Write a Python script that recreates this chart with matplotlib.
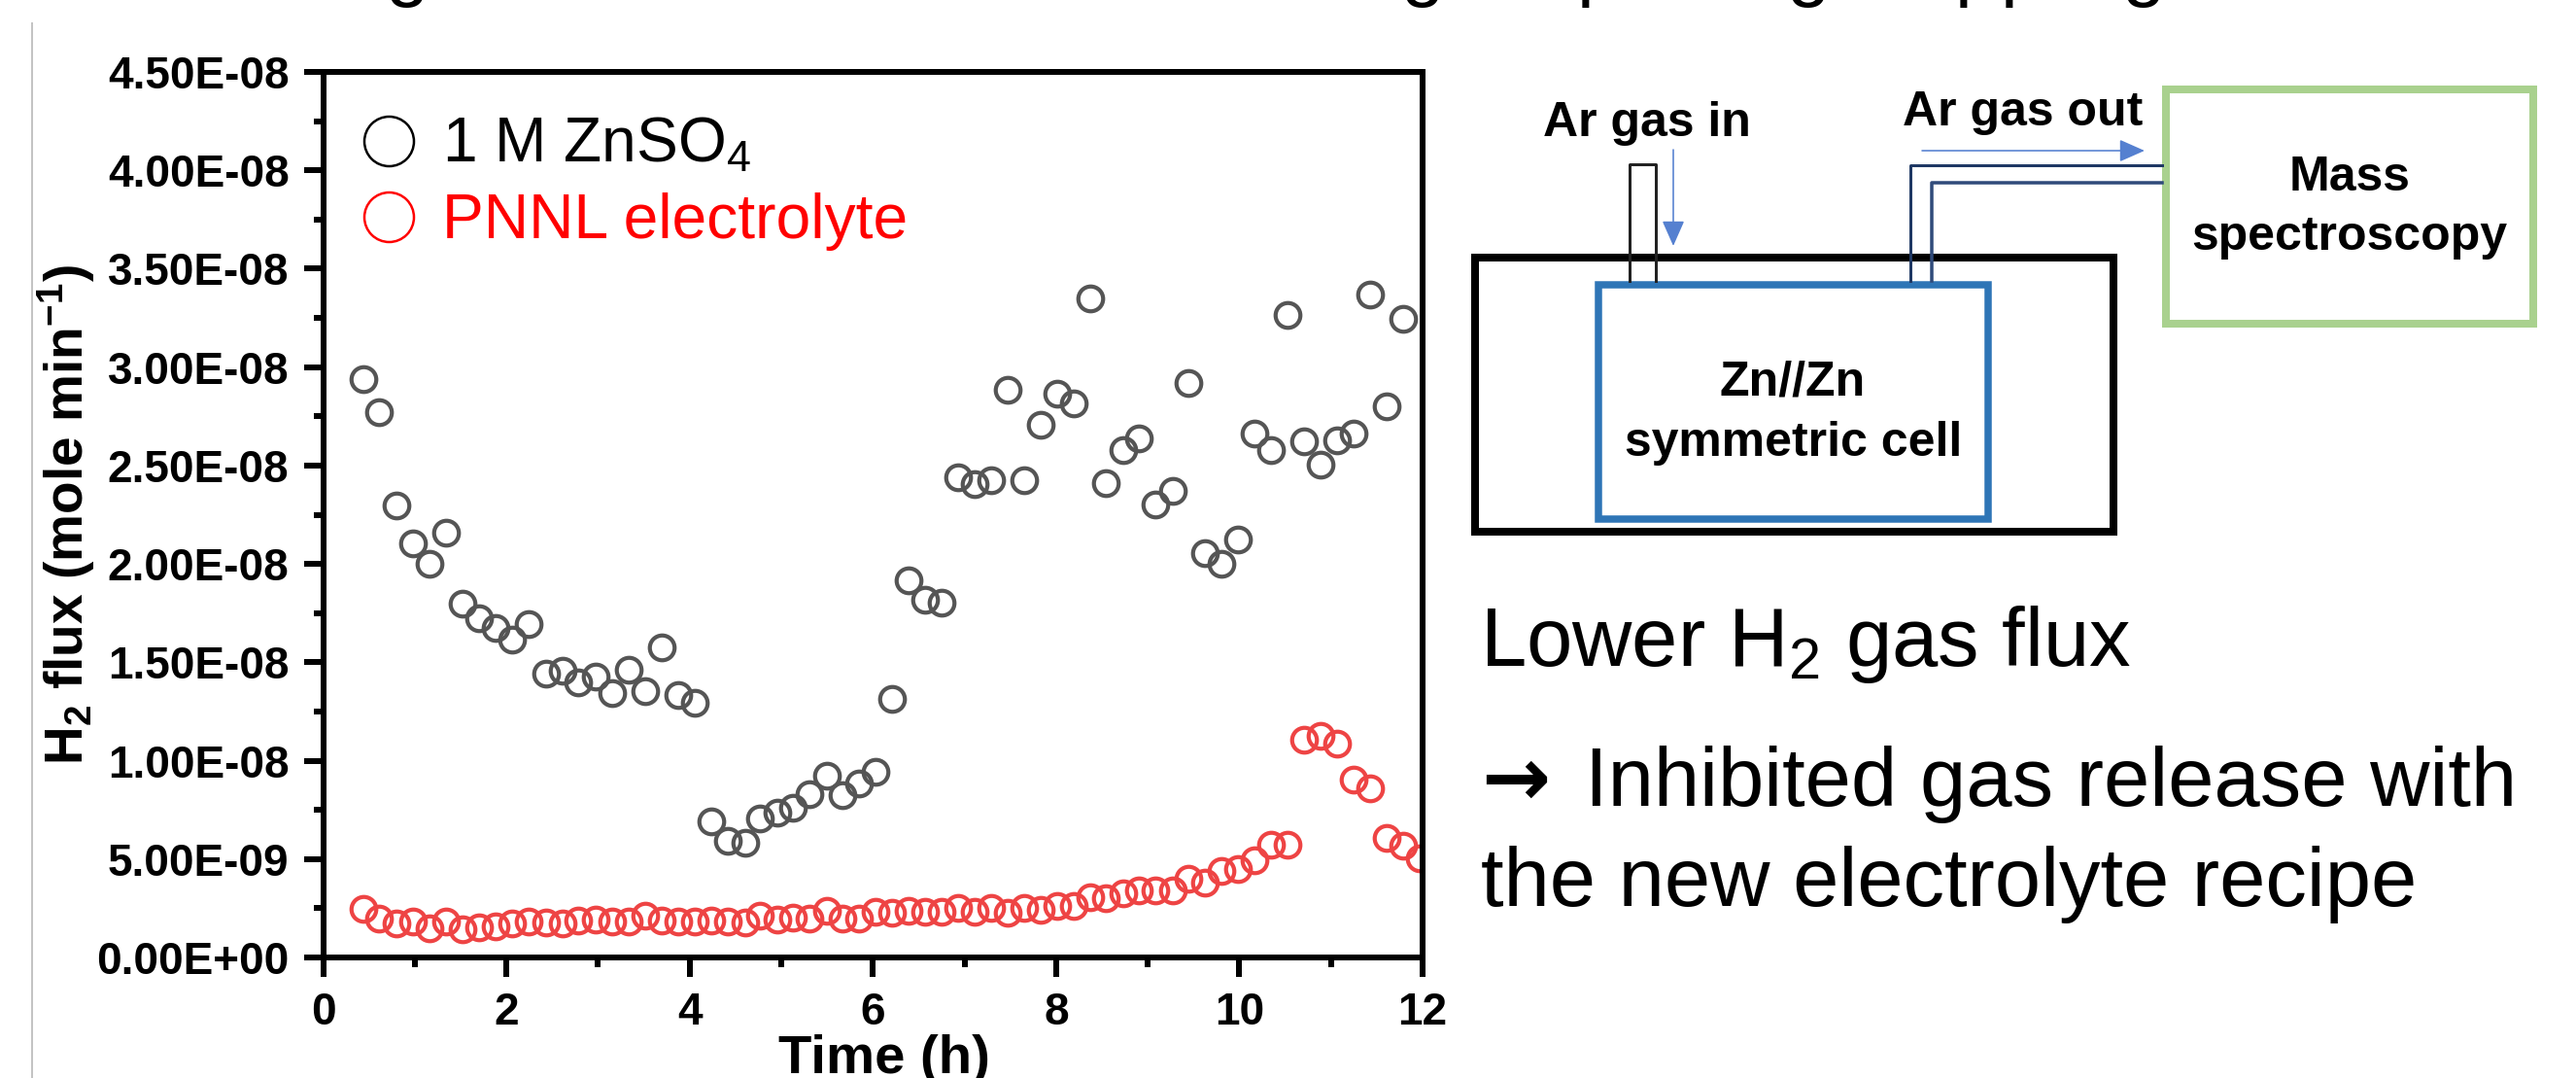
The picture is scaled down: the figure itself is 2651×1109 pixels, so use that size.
import matplotlib
matplotlib.use("Agg")
import matplotlib.pyplot as plt
from matplotlib.lines import Line2D
from matplotlib.patches import Rectangle

plt.rcParams['font.family'] = ['Liberation Sans', 'DejaVu Sans']
plt.rcParams['mathtext.fontset'] = 'custom'
plt.rcParams['mathtext.rm'] = 'Liberation Sans'
plt.rcParams['mathtext.bf'] = 'Liberation Sans:bold'
plt.rcParams['mathtext.default'] = 'regular'

W, H = 2651, 1109

# ---------- data (flux in units of 1e-8 mole/min) ----------
time_zn = [0.435, 0.614, 0.799, 0.978, 1.158, 1.342, 1.522, 1.701, 1.886, 2.065, 2.245, 2.429,
           2.609, 2.788, 2.973, 3.152, 3.332, 3.516, 3.696, 3.875, 4.060, 4.232, 4.418, 4.603,
           4.771, 4.955, 5.133, 5.311, 5.494, 5.672, 5.850, 6.033, 6.211, 6.389, 6.573, 6.751,
           6.929, 7.112, 7.290, 7.468, 7.652, 7.830, 8.008, 8.191, 8.369, 8.547, 8.730, 8.908,
           9.086, 9.270, 9.448, 9.626, 9.809, 9.987, 10.165, 10.348, 10.526, 10.704, 10.888,
           11.066, 11.244, 11.427, 11.605, 11.783]
flux_zn = [2.94, 2.77, 2.295, 2.106, 2.00, 2.158, 1.80, 1.722, 1.673, 1.614, 1.694, 1.442,
           1.455, 1.398, 1.428, 1.345, 1.464, 1.354, 1.575, 1.336, 1.292, 0.69, 0.593, 0.584,
           0.708, 0.738, 0.761, 0.828, 0.926, 0.823, 0.885, 0.942, 1.315, 1.915, 1.818, 1.805,
           2.438, 2.406, 2.424, 2.885, 2.424, 2.708, 2.867, 2.814, 3.35, 2.41, 2.58, 2.64,
           2.30, 2.37, 2.92, 2.057, 2.00, 2.124, 2.66, 2.577, 3.265, 2.623, 2.504, 2.628,
           2.66, 3.368, 2.80, 3.244]
time_pnnl = time_zn + [11.967]
flux_pnnl = [0.248, 0.198, 0.172, 0.182, 0.150, 0.182, 0.145, 0.154, 0.159, 0.172, 0.182, 0.180,
             0.172, 0.186, 0.195, 0.182, 0.182, 0.212, 0.186, 0.182, 0.182, 0.186, 0.182, 0.177,
             0.212, 0.195, 0.204, 0.200, 0.239, 0.200, 0.200, 0.230, 0.225, 0.239, 0.234, 0.230,
             0.251, 0.230, 0.251, 0.227, 0.251, 0.242, 0.262, 0.262, 0.306, 0.301, 0.327, 0.342,
             0.342, 0.342, 0.398, 0.381, 0.442, 0.451, 0.496, 0.575, 0.575, 1.106, 1.127, 1.088,
             0.903, 0.858, 0.607, 0.570, 0.504]
y_ticks = [0.0, 0.5, 1.0, 1.5, 2.0, 2.5, 3.0, 3.5, 4.0, 4.5]
y_minor = [0.25, 0.75, 1.25, 1.75, 2.25, 2.75, 3.25, 3.75, 4.25]
y_labels = ['0.00E+00', '5.00E-09', '1.00E-08', '1.50E-08', '2.00E-08',
            '2.50E-08', '3.00E-08', '3.50E-08', '4.00E-08', '4.50E-08']
x_ticks = [0, 2, 4, 6, 8, 10, 12]
x_minor = [1, 3, 5, 7, 9, 11]
name_zn = '1 M ZnSO$_4$'
name_pnnl = 'PNNL electrolyte'

fig = plt.figure(figsize=(W / 100, H / 100), dpi=100, facecolor='white')


def px(v):
    return v * 72 / 100


# overlay for schematic + annotations, in pixel coordinates
bg = fig.add_axes([0, 0, 1, 1], zorder=0)
bg.set_xlim(0, W)
bg.set_ylim(H, 0)
bg.axis('off')

# ---------- chart ----------
L, R, T, B = 332.5, 1464, 74, 985
ax = fig.add_axes([L / W, 1 - B / H, (R - L) / W, (B - T) / H], zorder=1)
ax.patch.set_alpha(0)
ax.plot(time_zn, [v * 1e-8 for v in flux_zn], ls='none', marker='o', ms=px(25.5), mew=px(4.2),
        mfc='none', mec='#555555', label=name_zn)
ax.plot(time_pnnl, [v * 1e-8 for v in flux_pnnl], ls='none', marker='o', ms=px(25.5), mew=px(4.2),
        mfc='none', mec='#ee4444', label=name_pnnl)
ax.set_xlim(0, 12)
ax.set_ylim(0, 4.5e-8)
ax.set_yticks([v * 1e-8 for v in y_ticks])
ax.set_yticklabels(y_labels)
ax.set_yticks([v * 1e-8 for v in y_minor], minor=True)
ax.set_xticks(x_ticks)
ax.set_xticks(x_minor, minor=True)
for s in ax.spines.values():
    s.set_linewidth(px(6))
ax.tick_params(axis='both', which='major', length=px(20), width=px(6), pad=px(15), labelsize=33)
ax.tick_params(axis='both', which='minor', length=px(10), width=px(6))
for t in ax.get_xticklabels() + ax.get_yticklabels():
    t.set_fontweight('bold')
ax.set_xlabel('Time (h)', fontsize=40.5, fontweight='bold')
ax.xaxis.set_label_coords(0.5106, -0.1305, transform=ax.transAxes)
ax.xaxis.label.set_va('baseline')
ax.set_ylabel('H$_2$ flux (mole min$^{-1}$)', fontsize=39.6, fontweight='bold')
ax.yaxis.set_label_coords((86 - L) / (R - L), 0.5, transform=ax.transAxes)
ax.yaxis.label.set_va('baseline')

handles = [Line2D([], [], ls='none', marker='o', ms=px(51), mew=px(2.5), mfc='none', mec='black'),
           Line2D([], [], ls='none', marker='o', ms=px(51), mew=px(2.5), mfc='none', mec='#ff0000')]
leg = ax.legend(handles, [name_zn, name_pnnl], loc='upper left', frameon=False, fontsize=46.2,
                bbox_to_anchor=(368 / W, 1 - 120 / H), bbox_transform=fig.transFigure,
                borderaxespad=0, borderpad=0, handlelength=1, handletextpad=0.36, labelspacing=0.28,
                labelcolor=['black', '#ff0000'])

# ---------- schematic ----------
bg.plot([33, 33], [24, H], color='#c4c4c4', lw=px(2))


def box(x0, y0, x1, y1, color, w):
    bg.add_patch(Rectangle((x0, y0), x1 - x0, y1 - y0, fill=False, ec=color, lw=px(w), joinstyle='miter'))


box(1518, 265, 2175, 547, 'black', 8)
box(1645, 293, 2046, 534, '#2e75b6', 7.5)
box(2229, 92, 2607, 333, '#a9d18e', 8)
bg.plot([1677, 1677, 1704, 1704], [289, 169, 169, 289], color='#222222', lw=px(3))
bg.plot([1965.5, 1965.5, 2225], [289, 170, 170], color='#1f3864', lw=px(3))
bg.plot([1988, 1988, 2225], [289, 188, 188], color='#2f4a7a', lw=px(3.5))
arrow = dict(arrowstyle='-|>,head_length=0.95,head_width=0.42', color='#5580d0', lw=px(1.6),
             shrinkA=0, shrinkB=0, mutation_scale=17)
bg.annotate('', xy=(1722, 253), xytext=(1722, 154), arrowprops=arrow)
bg.annotate('', xy=(2207, 155), xytext=(1978, 155), arrowprops=arrow)

schem = dict(fontsize=36, fontweight='bold', color='black', va='baseline')
bg.text(1695, 140, 'Ar gas in', ha='center', **schem)
bg.text(2082, 129, 'Ar gas out', ha='center', **schem)
bg.text(2418, 196, 'Mass', ha='center', **schem)
bg.text(2418, 257, 'spectroscopy', ha='center', **schem)
bg.text(1845, 407, 'Zn//Zn', ha='center', **schem)
bg.text(1846, 469, 'symmetric cell', ha='center', **schem)

note = dict(fontsize=61.2, color='black', va='baseline', ha='left')
bg.text(1523, 685, 'Lower H$_2$ gas flux', **note)
bg.text(1524, 829, '\u2192', fontweight='bold', family='DejaVu Sans', **note)
bg.text(1631, 829, 'Inhibited gas release with', **note)
bg.text(1524, 932, 'the new electrolyte recipe', **note)

# descenders of the cropped headline along the top edge
for xc, ch in [(419, 'g'), (1464, 'g'), (1645, 'p'), (1861, 'g'), (2034, 'p'), (2081, 'p'), (2206, 'g')]:
    bg.text(xc, -9, ch, fontsize=58, color='black', ha='center', va='baseline', clip_on=False)

fig.savefig('out.png', dpi=100, facecolor='white')
